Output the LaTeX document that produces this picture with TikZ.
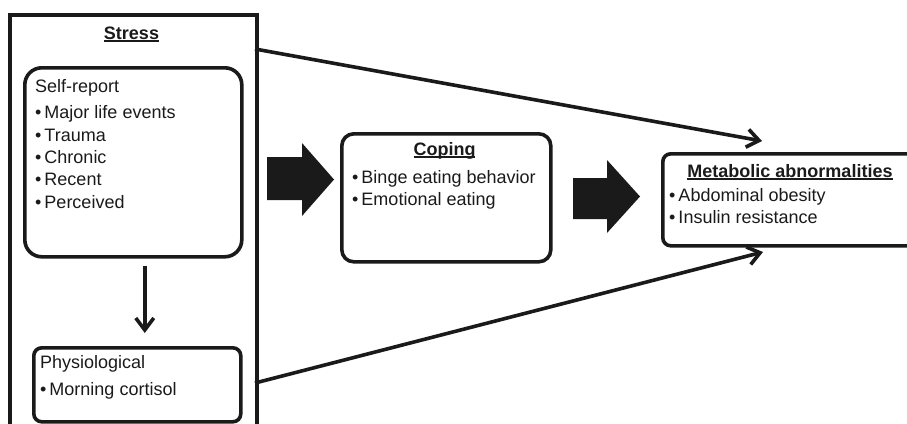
\documentclass[tikz,border=0pt]{standalone}
\usepackage{fontspec}
\setmainfont{Liberation Sans}
\usetikzlibrary{arrows.meta,positioning}
\definecolor{ink}{HTML}{1A1A1A}
\newsavebox\headbox
\newcommand{\headbar}[1]{\sbox\headbox{#1}\rlap{\rule[-3pt]{\wd\headbox}{1.8pt}}\usebox\headbox}
\newcommand{\bitem}{\textbullet\hspace{3pt}}

\begin{document}
\begin{tikzpicture}[x=1pt,y=-1pt,font=\fontsize{18}{22.3}\selectfont]
  \tikzset{
    panel/.style={draw=ink,line width=3.6pt,inner sep=0pt,anchor=north west},
    listtext/.style={inner sep=0pt,anchor=base west,align=left,text=ink},
    headtext/.style={inner sep=0pt,anchor=base,font=\fontsize{18}{22}\selectfont\bfseries,text=ink},
    link/.style={draw=ink,line width=3.6pt,-{Straight Barb[length=12pt,width=18pt]}},
    blockarrow/.style={fill=ink}
  }
  \useasboundingbox (0,0) rectangle (907,423);
  \clip (0,0) rectangle (907,423);

  % Stress
  \node[panel,minimum width=247pt,minimum height=430pt] (stress) at (8,13) {};
  \node[headtext] (stresshead) at (131.5,39) {\headbar{Stress}};
  \node[panel,rounded corners=17pt,minimum width=217pt,minimum height=189pt] (selfrep) at (23,66) {};
  % base of a multi-line node = last line
  \node[listtext] (selftext) at (35,208) {Self-report\\[3.7pt]
    \bitem Major life events\\
    \bitem Trauma\\
    \bitem Chronic\\
    \bitem Recent\\
    \bitem Perceived};
  \node[panel,rounded corners=8pt,minimum width=207pt,minimum height=74pt] (physio) at (32,346) {};
  \node[listtext] (physiotext) at (40,395) {Physiological\\[4.7pt]
    \bitem Morning cortisol};
  \draw[link] ([xshift=11.5pt,yshift=-7pt]selfrep.south) -- ([xshift=7.5pt,yshift=13pt]physio.north);

  % Coping
  \node[panel,rounded corners=12pt,minimum width=209pt,minimum height=128pt] (coping) at (340,132) {};
  \node[headtext] (copinghead) at (444.5,155) {\headbar{Coping}};
  \node[listtext] (copingtext) at (352,205.5) {\bitem Binge eating behavior\\
    \bitem Emotional eating};

  % Metabolic abnormalities
  \node[panel,rounded corners=8pt,minimum width=270pt,minimum height=92pt] (metab) at (661,152) {};
  \node[headtext] (metabhead) at (790,177) {\headbar{Metabolic abnormalities}};
  \node[listtext] (metabtext) at (669,223.5) {\bitem Abdominal obesity\\
    \bitem Insulin resistance};

  % Block arrows
  \fill[blockarrow] (267,157) -- (302,157) -- (302,143) -- (334,179.5) -- (302,216) -- (302,200) -- (267,200) -- cycle;
  \fill[blockarrow] (573,178) -- (607,178) -- (607,160) -- (640,196.5) -- (607,233) -- (607,219) -- (573,219) -- cycle;

  % Direct paths
  \coordinate (stressout1) at (255,49);
  \coordinate (metabin1) at (762,141);
  \coordinate (stressout2) at (255,383);
  \coordinate (metabin2) at (763,252);
  \draw[link] (stressout1) -- (metabin1);
  \draw[link] (stressout2) -- (metabin2);
\end{tikzpicture}
\end{document}
